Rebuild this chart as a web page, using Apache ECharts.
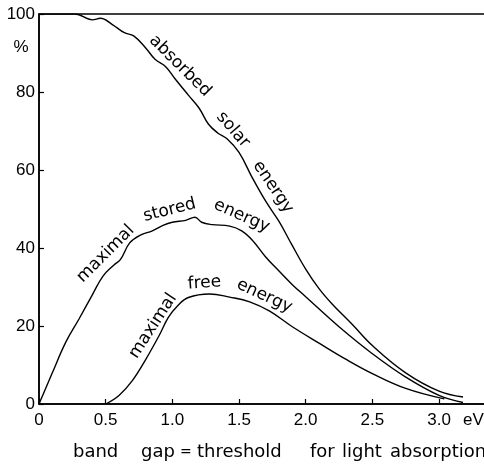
<!DOCTYPE html>
<html>
<head>
<meta charset="utf-8">
<title>band gap</title>
<script src="https://cdn.jsdelivr.net/npm/echarts@6/dist/echarts.min.js"></script>
<style>
  html, body { margin: 0; padding: 0; background: #fff; }
  #chart { width: 484px; height: 465px; }
</style>
</head>
<body>
<div id="chart"></div>
<script>
// curves: [band gap eV, %]
var absorbed = [
  [0, 100], [0.27, 100], [0.40, 98.5], [0.46, 98.9], [0.55, 97.3], [0.64, 95.2],
  [0.71, 94.4], [0.80, 91.3], [0.87, 88.4], [0.95, 86.5], [1.02, 83.4], [1.12, 79.2],
  [1.20, 75.9], [1.27, 71.8], [1.34, 69.5], [1.41, 68.0], [1.50, 64.5], [1.60, 58.0],
  [1.70, 52.0], [1.80, 46.8], [1.90, 40.6], [2.00, 34.6], [2.10, 29.6], [2.20, 25.6],
  [2.35, 20.4], [2.50, 15.0], [2.75, 8.0], [3.00, 3.3], [3.18, 1.8]
];
var stored = [
  [0, 0], [0.1, 8], [0.2, 15.8], [0.3, 21.8], [0.4, 28], [0.48, 32.8], [0.56, 35.6],
  [0.61, 37.0], [0.68, 41.3], [0.76, 43.3], [0.85, 44.4], [0.93, 45.8], [1.0, 46.6],
  [1.1, 47.1], [1.17, 47.9], [1.22, 46.6], [1.30, 46.0], [1.43, 45.6], [1.52, 44.4],
  [1.60, 42.0], [1.70, 37.7], [1.80, 34.1], [1.90, 30.6], [2.00, 27.5], [2.25, 19.8],
  [2.50, 12.9], [2.75, 6.9], [3.0, 2.2], [3.18, 0.4]
];
var free = [
  [0.5, 0], [0.6, 2.2], [0.7, 6.0], [0.8, 11.4], [0.9, 17.5], [0.97, 22.2], [1.04, 25.2],
  [1.12, 27.3], [1.28, 28.2], [1.43, 27.4], [1.58, 26.2], [1.73, 23.8], [1.90, 19.8],
  [2.1, 15.6], [2.3, 11.5], [2.5, 7.8], [2.75, 4.0], [3.04, 1.3]
];
var yTicks = [0, 20, 40, 60, 80, 100];
var xTicks = ['0', '0.5', '1.0', '1.5', '2.0', '2.5', '3.0'];

// words written along the curves (data position, angle in degrees)
var curveLabels = [
  { text: 'absorbed', at: [1.058, 86.7], rot: -45 },
  { text: 'solar', at: [1.455, 70.3], rot: -49 },
  { text: 'energy', at: [1.755, 55.6], rot: -56 },
  { text: 'maximal', at: [0.5, 38.5], rot: 45 },
  { text: 'stored', at: [0.98, 49.7], rot: 14 },
  { text: 'energy', at: [1.52, 48.2], rot: -24 },
  { text: 'maximal', at: [0.855, 20.0], rot: 57 },
  { text: 'free', at: [1.24, 31.0], rot: 4 },
  { text: 'energy', at: [1.69, 27.7], rot: -25 }
];

var font = 'DejaVu Sans';
var tickFont = 'Liberation Sans';
var myChart = echarts.init(document.getElementById('chart'));

function line(name, data) {
  return {
    name: name,
    type: 'line',
    data: data,
    showSymbol: false,
    smooth: 0.4,
    lineStyle: { color: '#000', width: 1.4 },
    silent: true
  };
}

myChart.setOption({
  animation: false,
  backgroundColor: '#fff',
  grid: {
    left: 39, top: 14, width: 466.7, height: 390,
    outerBoundsMode: 'none', containLabel: false,
    show: true, borderColor: '#000', borderWidth: 1.5
  },
  xAxis: {
    type: 'value',
    min: 0, max: 3.5, interval: 0.5,
    axisLine: { lineStyle: { color: '#000', width: 1.5 } },
    axisTick: { inside: true, length: 5, lineStyle: { color: '#000', width: 1.2 } },
    axisLabel: {
      color: '#000', fontFamily: tickFont, fontSize: 17, margin: 8,
      formatter: function (v) { var i = Math.round(v / 0.5); return xTicks[i] || ''; }
    },
    splitLine: { show: false }
  },
  yAxis: {
    type: 'value',
    min: 0, max: 100, interval: 20,
    axisLine: { show: true, lineStyle: { color: '#000', width: 1.5 } },
    axisTick: { show: true, inside: true, length: 5, lineStyle: { color: '#000', width: 1.2 } },
    axisLabel: {
      color: '#000', fontFamily: tickFont, fontSize: 17, margin: 4,
      formatter: function (v) { return yTicks.indexOf(v) >= 0 ? String(v) : ''; }
    },
    splitLine: { show: false }
  },
  series: [
    line('absorbed solar energy', absorbed),
    line('maximal stored energy', stored),
    line('maximal free energy', free)
  ]
});

// labels placed in data coordinates, axis notes and the x title in pixels
var graphics = curveLabels.map(function (l) {
  var p = myChart.convertToPixel({ gridIndex: 0 }, l.at);
  return {
    type: 'text', x: p[0], y: p[1], rotation: l.rot * Math.PI / 180,
    style: { text: l.text, fill: '#000', font: '17px "' + font + '"', align: 'center', verticalAlign: 'middle' }
  };
});
graphics.push({ type: 'text', x: 21, y: 47, style: { text: '%', fill: '#000', font: '17px "' + tickFont + '"', align: 'center', verticalAlign: 'middle' } });
graphics.push({ type: 'text', x: 463, y: 420, style: { text: 'eV', fill: '#000', font: '17px "' + tickFont + '"', align: 'left', verticalAlign: 'middle' } });

var titleWords = [['band', 73, 18], ['gap', 141, 18], ['=', 180, 14], ['threshold', 197, 18], ['for', 310, 18], ['light', 342, 18], ['absorption', 390, 18]];
titleWords.forEach(function (w) {
  graphics.push({ type: 'text', x: w[1], y: 452, style: { text: w[0], fill: '#000', font: w[2] + 'px "' + font + '"', align: 'left', verticalAlign: 'middle' } });
});

myChart.setOption({ graphic: graphics });
</script>
</body>
</html>
